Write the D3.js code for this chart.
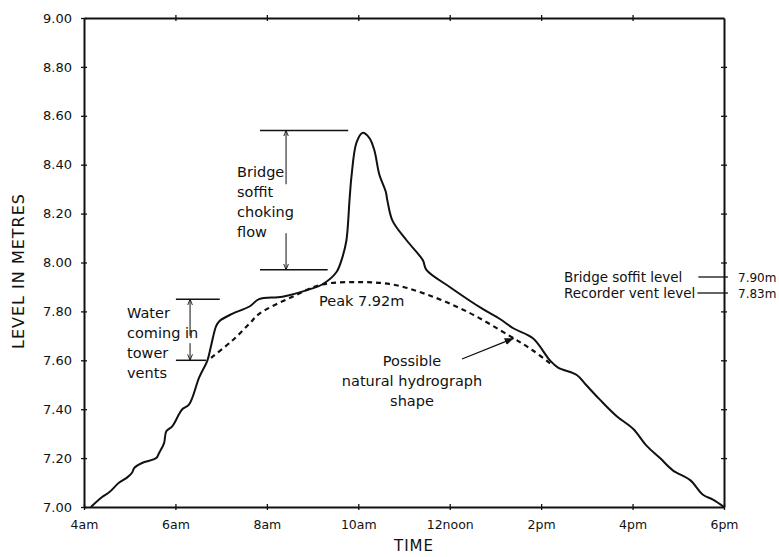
<!DOCTYPE html>
<html>
<head>
<meta charset="utf-8">
<script src="https://cdn.jsdelivr.net/npm/d3@7"></script>
<style>
  body { margin: 0; background: #fff; }
  svg { display: block; font-family: "DejaVu Sans", sans-serif; }
</style>
</head>
<body>
<svg id="chart" width="779" height="557"></svg>
<script>
// time axis (hours of the day) and its labels
const hourTicks = [4, 6, 8, 10, 12, 14, 16, 18];
const hourLabels = ["4am", "6am", "8am", "10am", "12noon", "2pm", "4pm", "6pm"];
const levelTicks = [7.0, 7.2, 7.4, 7.6, 7.8, 8.0, 8.2, 8.4, 8.6, 8.8, 9.0];

// recorded water level
const recordedHours = [4.15, 4.39, 4.55, 4.77, 4.94, 5.05, 5.10, 5.27, 5.58, 5.64, 5.75, 5.80, 5.93,
  6.08, 6.15, 6.30, 6.52, 6.70, 6.78, 6.89, 6.96, 7.24, 7.62, 7.83, 8.34, 8.93, 9.21, 9.52, 9.65,
  9.74, 9.81, 9.85, 9.96, 10.09, 10.24, 10.35, 10.46, 10.60, 10.64, 10.75, 11.06, 11.41, 11.49,
  12.00, 12.72, 13.09, 13.40, 13.82, 14.19, 14.37, 14.78, 14.98, 15.28, 15.66, 16.01, 16.31,
  16.60, 16.88, 17.26, 17.54, 17.76, 18.00];
const recordedLevels = [7.00, 7.04, 7.06, 7.10, 7.12, 7.14, 7.16, 7.18, 7.20, 7.22, 7.26, 7.31, 7.33,
  7.38, 7.40, 7.42, 7.53, 7.60, 7.66, 7.74, 7.76, 7.79, 7.82, 7.85, 7.86, 7.89, 7.91, 7.96, 8.02,
  8.09, 8.26, 8.35, 8.49, 8.53, 8.51, 8.46, 8.36, 8.29, 8.25, 8.17, 8.09, 8.01, 7.97,
  7.90, 7.81, 7.77, 7.73, 7.69, 7.60, 7.57, 7.54, 7.50, 7.44, 7.37, 7.32, 7.25,
  7.20, 7.15, 7.11, 7.05, 7.03, 7.00];

// possible natural hydrograph (dashed)
const naturalHours = [6.78, 7.24, 7.62, 7.83, 8.56, 9.21, 10.03, 10.75, 11.49, 12.37, 13.31, 13.82, 14.25];
const naturalLevels = [7.61, 7.68, 7.75, 7.79, 7.86, 7.91, 7.92, 7.91, 7.87, 7.80, 7.70, 7.64, 7.58];

// reference levels on the right side
const refNames = ["Bridge soffit level", "Recorder vent level"];
const refLevels = [7.90, 7.83];
const peakLevel = 7.92;

const svg = d3.select("#chart");

const x = d3.scaleLinear().domain([4, 18]).range([84, 724]);
const y = d3.scaleLinear().domain([7, 9]).range([507, 18]);

const defs = svg.append("defs");
defs.append("marker").attr("id", "tip")
  .attr("viewBox", "0 0 10 10").attr("refX", 10).attr("refY", 5)
  .attr("markerWidth", 9).attr("markerHeight", 9).attr("markerUnits", "userSpaceOnUse")
  .attr("orient", "auto")
  .append("path").attr("d", "M0,1 L10,5 L0,9 z").attr("fill", "#111");
defs.append("marker").attr("id", "dim")
  .attr("viewBox", "0 0 10 10").attr("refX", 10).attr("refY", 5)
  .attr("markerWidth", 6).attr("markerHeight", 6).attr("markerUnits", "userSpaceOnUse")
  .attr("orient", "auto")
  .append("path").attr("d", "M0,1 L10,5 L0,9").attr("fill", "none").attr("stroke", "#111").attr("stroke-width", 1.5);

// axes, ticks cross the frame
function styleAxis(g) {
  g.select(".domain").attr("stroke", "#111").attr("stroke-width", 2);
  g.selectAll(".tick line").attr("stroke", "#111").attr("stroke-width", 1.3);
  g.selectAll("text").attr("fill", "#111").attr("font-family", "DejaVu Sans, sans-serif");
}

const gBottom = svg.append("g").attr("transform", `translate(0,${y(7)})`)
  .call(d3.axisBottom(x).tickValues(hourTicks).tickFormat((d, i) => hourLabels[i]).tickSize(3).tickSizeOuter(0))
  .call(styleAxis);
gBottom.selectAll(".tick line").attr("y1", -3);
gBottom.selectAll(".tick text").attr("y", 13).attr("font-size", 12.5);

const gTop = svg.append("g").attr("transform", `translate(0,${y(9)})`)
  .call(d3.axisTop(x).tickValues(hourTicks.slice(1, -1)).tickFormat("").tickSize(3).tickSizeOuter(0))
  .call(styleAxis);
gTop.selectAll(".tick line").attr("y1", 3);

const gLeft = svg.append("g").attr("transform", `translate(${x(4)},0)`)
  .call(d3.axisLeft(y).tickValues(levelTicks).tickFormat(d3.format(".2f")).tickSize(3).tickSizeOuter(0))
  .call(styleAxis);
gLeft.selectAll(".tick line").attr("x1", 3);
gLeft.selectAll(".tick text").attr("x", -12).attr("font-size", 13);

const gRight = svg.append("g").attr("transform", `translate(${x(18)},0)`)
  .call(d3.axisRight(y).tickValues(levelTicks.slice(1, -1)).tickFormat("").tickSize(3).tickSizeOuter(0))
  .call(styleAxis);
gRight.selectAll(".tick line").attr("x1", -3);

// axis titles
svg.append("text")
  .attr("transform", "translate(24,271) rotate(-90)")
  .attr("text-anchor", "middle").attr("font-size", 16).attr("letter-spacing", 1)
  .attr("fill", "#111").text("LEVEL IN METRES");
svg.append("text")
  .attr("x", (x(4) + x(18)) / 2 + 10).attr("y", 551)
  .attr("text-anchor", "middle").attr("font-size", 15).attr("letter-spacing", 1)
  .attr("fill", "#111").text("TIME");

// curves
const line = d3.line()
  .x(d => x(d[0])).y(d => y(d[1]))
  .curve(d3.curveCatmullRom.alpha(0.5));

svg.append("path")
  .datum(d3.zip(naturalHours, naturalLevels))
  .attr("d", line)
  .attr("fill", "none").attr("stroke", "#111").attr("stroke-width", 2.2)
  .attr("stroke-dasharray", "5,4");

svg.append("path")
  .datum(d3.zip(recordedHours, recordedLevels))
  .attr("d", line)
  .attr("fill", "none").attr("stroke", "#111").attr("stroke-width", 2)
  .attr("stroke-linejoin", "round");

// dimension brackets
const brackets = [
  { hi: 8.54, lo: 7.97, at: 8.42, hiSpan: [7.85, 9.78], loSpan: [7.85, 9.33], gap: [8.32, 8.12] },
  { hi: 7.85, lo: 7.60, at: 6.32, hiSpan: [6.01, 6.97], loSpan: [6.01, 6.67], gap: [7.70, 7.67] }
];
const ann = svg.append("g").attr("stroke", "#111").attr("fill", "none");
brackets.forEach(b => {
  ann.append("line").attr("x1", x(b.hiSpan[0])).attr("x2", x(b.hiSpan[1]))
    .attr("y1", y(b.hi)).attr("y2", y(b.hi)).attr("stroke-width", 1.5);
  ann.append("line").attr("x1", x(b.loSpan[0])).attr("x2", x(b.loSpan[1]))
    .attr("y1", y(b.lo)).attr("y2", y(b.lo)).attr("stroke-width", 1.5);
  ann.append("line").attr("x1", x(b.at)).attr("x2", x(b.at))
    .attr("y1", y(b.gap[0])).attr("y2", y(b.hi)).attr("stroke-width", 1)
    .attr("marker-end", "url(#dim)");
  ann.append("line").attr("x1", x(b.at)).attr("x2", x(b.at))
    .attr("y1", y(b.gap[1])).attr("y2", y(b.lo)).attr("stroke-width", 1)
    .attr("marker-end", "url(#dim)");
});

// annotation text
function block(lines, px, py, anchor) {
  const t = svg.append("text").attr("font-size", 14.5).attr("fill", "#111")
    .attr("text-anchor", anchor || "start");
  lines.forEach((s, i) => t.append("tspan").attr("x", px).attr("y", py + i * 20).text(s));
}
block(["Bridge", "soffit", "choking", "flow"], 237, 176.5);
block(["Water", "coming in", "tower", "vents"], 127, 318);
block(["Possible", "natural hydrograph", "shape"], 412, 366, "middle");
svg.append("text").attr("x", 319).attr("y", 306)
  .attr("font-size", 14.5).attr("fill", "#111")
  .text(`Peak ${peakLevel.toFixed(2)}m`);

// arrow to the dashed curve
svg.append("line")
  .attr("x1", 462).attr("y1", 359)
  .attr("x2", x(13.4)).attr("y2", y(7.69))
  .attr("stroke", "#111").attr("stroke-width", 1.3)
  .attr("marker-end", "url(#tip)");

// reference levels on the right
const refY = [277, 293];
refNames.forEach((name, i) => {
  const t = svg.append("text").attr("x", 564).attr("y", refY[i] + 4.5)
    .attr("font-size", 13.5).attr("fill", "#111").text(name);
  const w = t.node().getComputedTextLength();
  svg.append("line")
    .attr("x1", Math.min(564 + w + (i === 0 ? 16 : 2), x(18) - 10)).attr("x2", x(18) + 4)
    .attr("y1", refY[i]).attr("y2", refY[i])
    .attr("stroke", "#111").attr("stroke-width", 1.3);
  svg.append("text").attr("x", 738).attr("y", refY[i] + 4.5)
    .attr("font-size", 12).attr("fill", "#111")
    .text(`${refLevels[i].toFixed(2)}m`);
});
</script>
</body>
</html>
